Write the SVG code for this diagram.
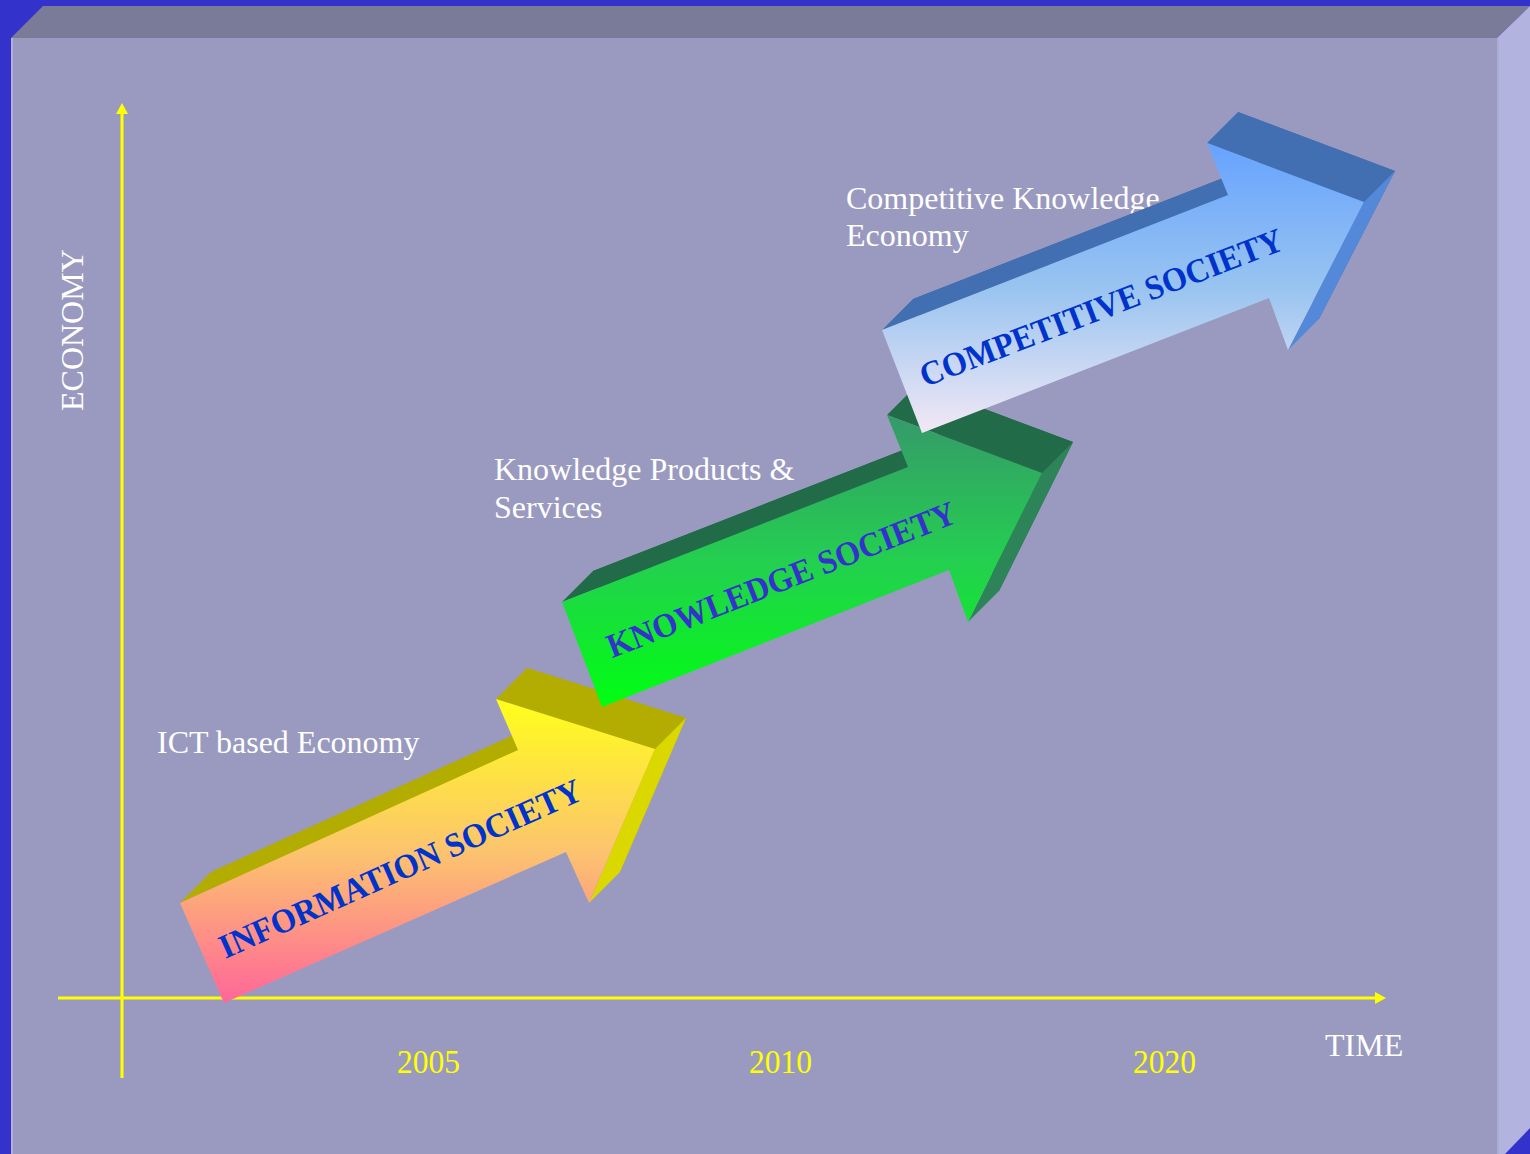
<svg xmlns="http://www.w3.org/2000/svg" width="1530" height="1154" viewBox="0 0 1530 1154">
<defs>
<style>
.lbl{font-family:"Liberation Serif","Times New Roman",serif;font-size:32px;fill:#FFFFFF}
.yr{font-family:"Liberation Serif","Times New Roman",serif;font-size:33px;fill:#FFFF00}
.atxt{font-family:"Liberation Serif","Times New Roman",serif;font-size:34px;font-weight:bold;text-anchor:middle}
.axis{stroke:#FFFF00;stroke-width:3;fill:none}
</style>
<linearGradient id="gY" x1="0" y1="0" x2="0" y2="1">
<stop offset="0" stop-color="#FFFF1A"/>
<stop offset="0.5" stop-color="#FCC46E"/>
<stop offset="1" stop-color="#FF6699"/>
</linearGradient>
<linearGradient id="gG" x1="0" y1="0" x2="0" y2="1">
<stop offset="0" stop-color="#36996A"/>
<stop offset="0.5" stop-color="#24CF50"/>
<stop offset="1" stop-color="#00FF11"/>
</linearGradient>
<linearGradient id="gB" x1="0" y1="0" x2="0" y2="1">
<stop offset="0" stop-color="#66A3FF"/>
<stop offset="0.5" stop-color="#99C4F0"/>
<stop offset="1" stop-color="#F2E8F5"/>
</linearGradient>
</defs>

<g id="background">
<rect x="0" y="0" width="1530" height="1154" fill="#3333CC"/>
<polygon points="43,6 1530,6 1497,38 11,38" fill="#7A7A99"/>
<rect x="11" y="38" width="1486" height="1116" fill="#9A9AC0"/>
<polygon points="1497,38 1530,6 1530,1128 1505,1154 1497,1154" fill="#B3B3E0"/>
<line x1="12" y1="38" x2="12" y2="1154" stroke="#B0B0D8" stroke-width="2"/>
<line x1="1498" y1="38" x2="1498" y2="1154" stroke="#ADADDA" stroke-width="2"/>
</g>

<g id="axes">
<line class="axis" x1="122" y1="1078" x2="122" y2="112"/>
<polygon points="116,114 122,103 128,114" fill="#FFFF00"/>
<line class="axis" x1="58" y1="998" x2="1376" y2="998"/>
<polygon points="1375,992 1386,998 1375,1004" fill="#FFFF00"/>
</g>

<g id="axis-labels">
<text class="lbl" transform="translate(83,411) rotate(-90)">ECONOMY</text>
<text class="lbl" x="1325" y="1056">TIME</text>
<text class="yr" x="397" y="1073" textLength="63" lengthAdjust="spacingAndGlyphs">2005</text>
<text class="yr" x="749" y="1073" textLength="63" lengthAdjust="spacingAndGlyphs">2010</text>
<text class="yr" x="1133" y="1073" textLength="63" lengthAdjust="spacingAndGlyphs">2020</text>
</g>

<g id="captions">
<text class="lbl" x="157" y="753">ICT based Economy</text>
<text class="lbl" x="494" y="480">Knowledge Products &amp;</text>
<text class="lbl" x="494" y="518">Services</text>
<text class="lbl" x="846" y="209">Competitive Knowledge</text>
<text class="lbl" x="846" y="246">Economy</text>
</g>

<g id="arrow-information">
<polygon points="211,872 549,719 527,668 686,718 620,872 597,821 255,972" fill="#B2AD00"/>
<polygon points="180,903 211,872 549,719 518,750" fill="#B2AD00"/>
<polygon points="496,699 527,668 686,718 655,749" fill="#B2AD00"/>
<polygon points="655,749 686,718 620,872 589,903" fill="#DAD800"/>
<polygon points="180,903 518,750 496,699 655,749 589,903 566,852 224,1003" fill="url(#gY)"/>
<text class="atxt" fill="#0033CC" transform="translate(400,868) rotate(-24)" y="12" textLength="393" lengthAdjust="spacingAndGlyphs">INFORMATION SOCIETY</text>
</g>

<g id="arrow-knowledge">
<polygon points="593,571 939,436 918,384 1073,442 999,591 980,539 633,676" fill="#226B48"/>
<polygon points="562,602 593,571 939,436 908,467" fill="#226B48"/>
<polygon points="887,415 918,384 1073,442 1042,473" fill="#226B48"/>
<polygon points="1042,473 1073,442 999,591 968,622" fill="#2D8458"/>
<polygon points="562,602 908,467 887,415 1042,473 968,622 949,570 602,707" fill="url(#gG)"/>
<text class="atxt" fill="#3333CC" transform="translate(781,579) rotate(-21.5)" y="12" textLength="372" lengthAdjust="spacingAndGlyphs">KNOWLEDGE SOCIETY</text>
</g>

<g id="arrow-competitive">
<polygon points="913,299 1259,164 1238,112 1395,171 1319,319 1300,267 953,402" fill="#416FB1"/>
<polygon points="882,330 913,299 1259,164 1228,195" fill="#416FB1"/>
<polygon points="1207,143 1238,112 1395,171 1364,202" fill="#416FB1"/>
<polygon points="1364,202 1395,171 1319,319 1288,350" fill="#5489DA"/>
<polygon points="882,330 1228,195 1207,143 1364,202 1288,350 1269,298 922,433" fill="url(#gB)"/>
<text class="atxt" fill="#0033CC" transform="translate(1101,307) rotate(-21)" y="12" textLength="386" lengthAdjust="spacingAndGlyphs">COMPETITIVE SOCIETY</text>
</g>
</svg>
